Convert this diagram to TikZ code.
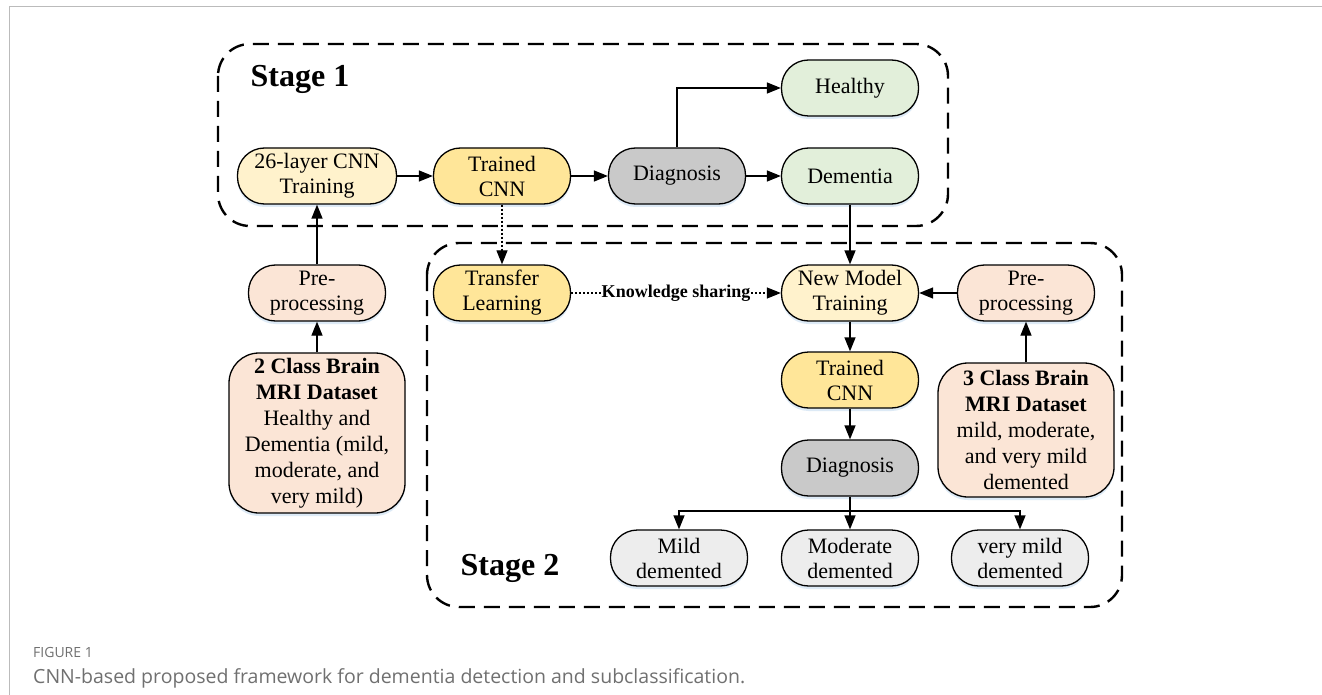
\documentclass[tikz,border=0pt]{standalone}
\usepackage{fontspec}
\setmainfont{Liberation Serif}
\newfontfamily\capfont{Open Sans}
\usetikzlibrary{arrows.meta,shadows}
\definecolor{cYel}{HTML}{FFF2CC}
\definecolor{cGold}{HTML}{FFE699}
\definecolor{cGray}{HTML}{C9C9C9}
\definecolor{cGreen}{HTML}{E2EFDA}
\definecolor{cPeach}{HTML}{FBE5D6}
\definecolor{cLight}{HTML}{EDEDED}
\definecolor{cShadow}{HTML}{BDD7EE}
\definecolor{cCap}{HTML}{707070}
\definecolor{cFrame}{HTML}{BBBBBB}
\tikzset{
  box/.style={draw=black, line width=1.3pt, rounded corners=27pt, minimum height=56pt,
    minimum width=137pt, align=center, inner sep=2pt,
    font=\fontsize{22}{25}\selectfont,
    drop shadow={shadow xshift=0pt, shadow yshift=-3pt, opacity=0.5, fill=cShadow}},
  databox/.style={box, rounded corners=30pt, minimum width=176pt, font=\fontsize{22}{26}\selectfont},
  arr/.style={-{Triangle[length=14pt,width=11pt]}, line width=1.3pt},
  dotarr/.style={-{Triangle[length=14pt,width=11pt]}, line width=1.2pt, dash pattern=on 2pt off 2pt},
  grp/.style={draw, line width=2.4pt, dash pattern=on 16pt off 9pt, rounded corners=32pt},
}
\begin{document}
\begin{tikzpicture}[x=1pt,y=-1pt]
\useasboundingbox (0,0) rectangle (1322,695);
\fill[white] (0,0) rectangle (1322,695);
\draw[cFrame, line width=1pt] (9,695) -- (9,7) -- (1322,7);

% groups
\draw[grp] (218,44) rectangle (948,226);
\draw[grp] (427,243) rectangle (1122,607);
\node[font=\fontsize{32}{36}\selectfont\bfseries] (st1) at (300,79) {Stage 1};
\node[font=\fontsize{32}{36}\selectfont\bfseries] (st2) at (510,568) {Stage 2};

% stage 1 nodes
\node[box, fill=cYel, minimum width=159pt] (cnn) at (317,176) {26-layer CNN\\Training};
\node[box, fill=cGold] (tr1) at (502,176) {Trained\\CNN};
\node[box, fill=cGray] (dg1) at (677,176) {Diagnosis};
\node[box, fill=cGreen] (dem) at (850,176) {Dementia};
\node[box, fill=cGreen] (hea) at (850,88) {Healthy};

% left column
\node[box, fill=cPeach] (pp1) at (317,293) {Pre-\\processing};
\node[databox, fill=cPeach, minimum height=160pt] (ds2) at (317,433)
  {\textbf{2 Class Brain}\\\textbf{MRI Dataset}\\Healthy and\\Dementia (mild,\\moderate, and\\very mild)};

% stage 2 nodes
\node[box, fill=cGold] (tl) at (502,293) {Transfer\\Learning};
\node[box, fill=cYel] (nm) at (850,293) {New Model\\Training};
\node[box, fill=cPeach] (pp2) at (1026,293) {Pre-\\processing};
\node[databox, fill=cPeach, minimum height=134pt] (ds3) at (1026,430)
  {\textbf{3 Class Brain}\\\textbf{MRI Dataset}\\mild, moderate,\\and very mild\\demented};
\node[box, fill=cGold] (tr2) at (850,380) {Trained\\CNN};
\node[box, fill=cGray] (dg2) at (850,468) {Diagnosis};
\node[box, fill=cLight] (mild) at (679,558) {Mild\\demented};
\node[box, fill=cLight] (mod) at (850,558) {Moderate\\demented};
\node[box, fill=cLight] (vm) at (1020,558) {very mild\\demented};

% connectors
\draw[arr] (ds2) -- (pp1);
\draw[arr] (pp1) -- (cnn);
\draw[arr] (cnn) -- (tr1);
\draw[arr] (tr1) -- (dg1);
\draw[arr] (dg1) -- (dem);
\draw[arr] (dg1.north) |- (hea.west);
\draw[arr] (dem) -- (nm);
\draw[dotarr] (tr1) -- (tl);
\draw[dotarr] (tl) -- node[fill=white, inner sep=1pt, font=\fontsize{18}{20}\selectfont\bfseries] (ks) {Knowledge sharing} (nm);
\draw[arr] (pp2) -- (nm);
\draw[arr] (ds3) -- (pp2);
\draw[arr] (nm) -- (tr2);
\draw[arr] (tr2) -- (dg2);
\coordinate (br) at (850,511);
\draw[arr] (dg2) -- (mod);
\draw[arr] (br) -| (mild.north);
\draw[arr] (br) -| (vm.north);

% caption
\node[anchor=base west, inner sep=0pt, text=cCap, font=\capfont\fontsize{14}{16}\selectfont] (fig) at (33,657) {FIGURE 1};
\node[anchor=base west, inner sep=0pt, text=cCap, font=\capfont\fontsize{19.5}{22}\selectfont] (cap) at (33,683) {CNN-based proposed framework for dementia detection and subclassification.};
\end{tikzpicture}
\end{document}
